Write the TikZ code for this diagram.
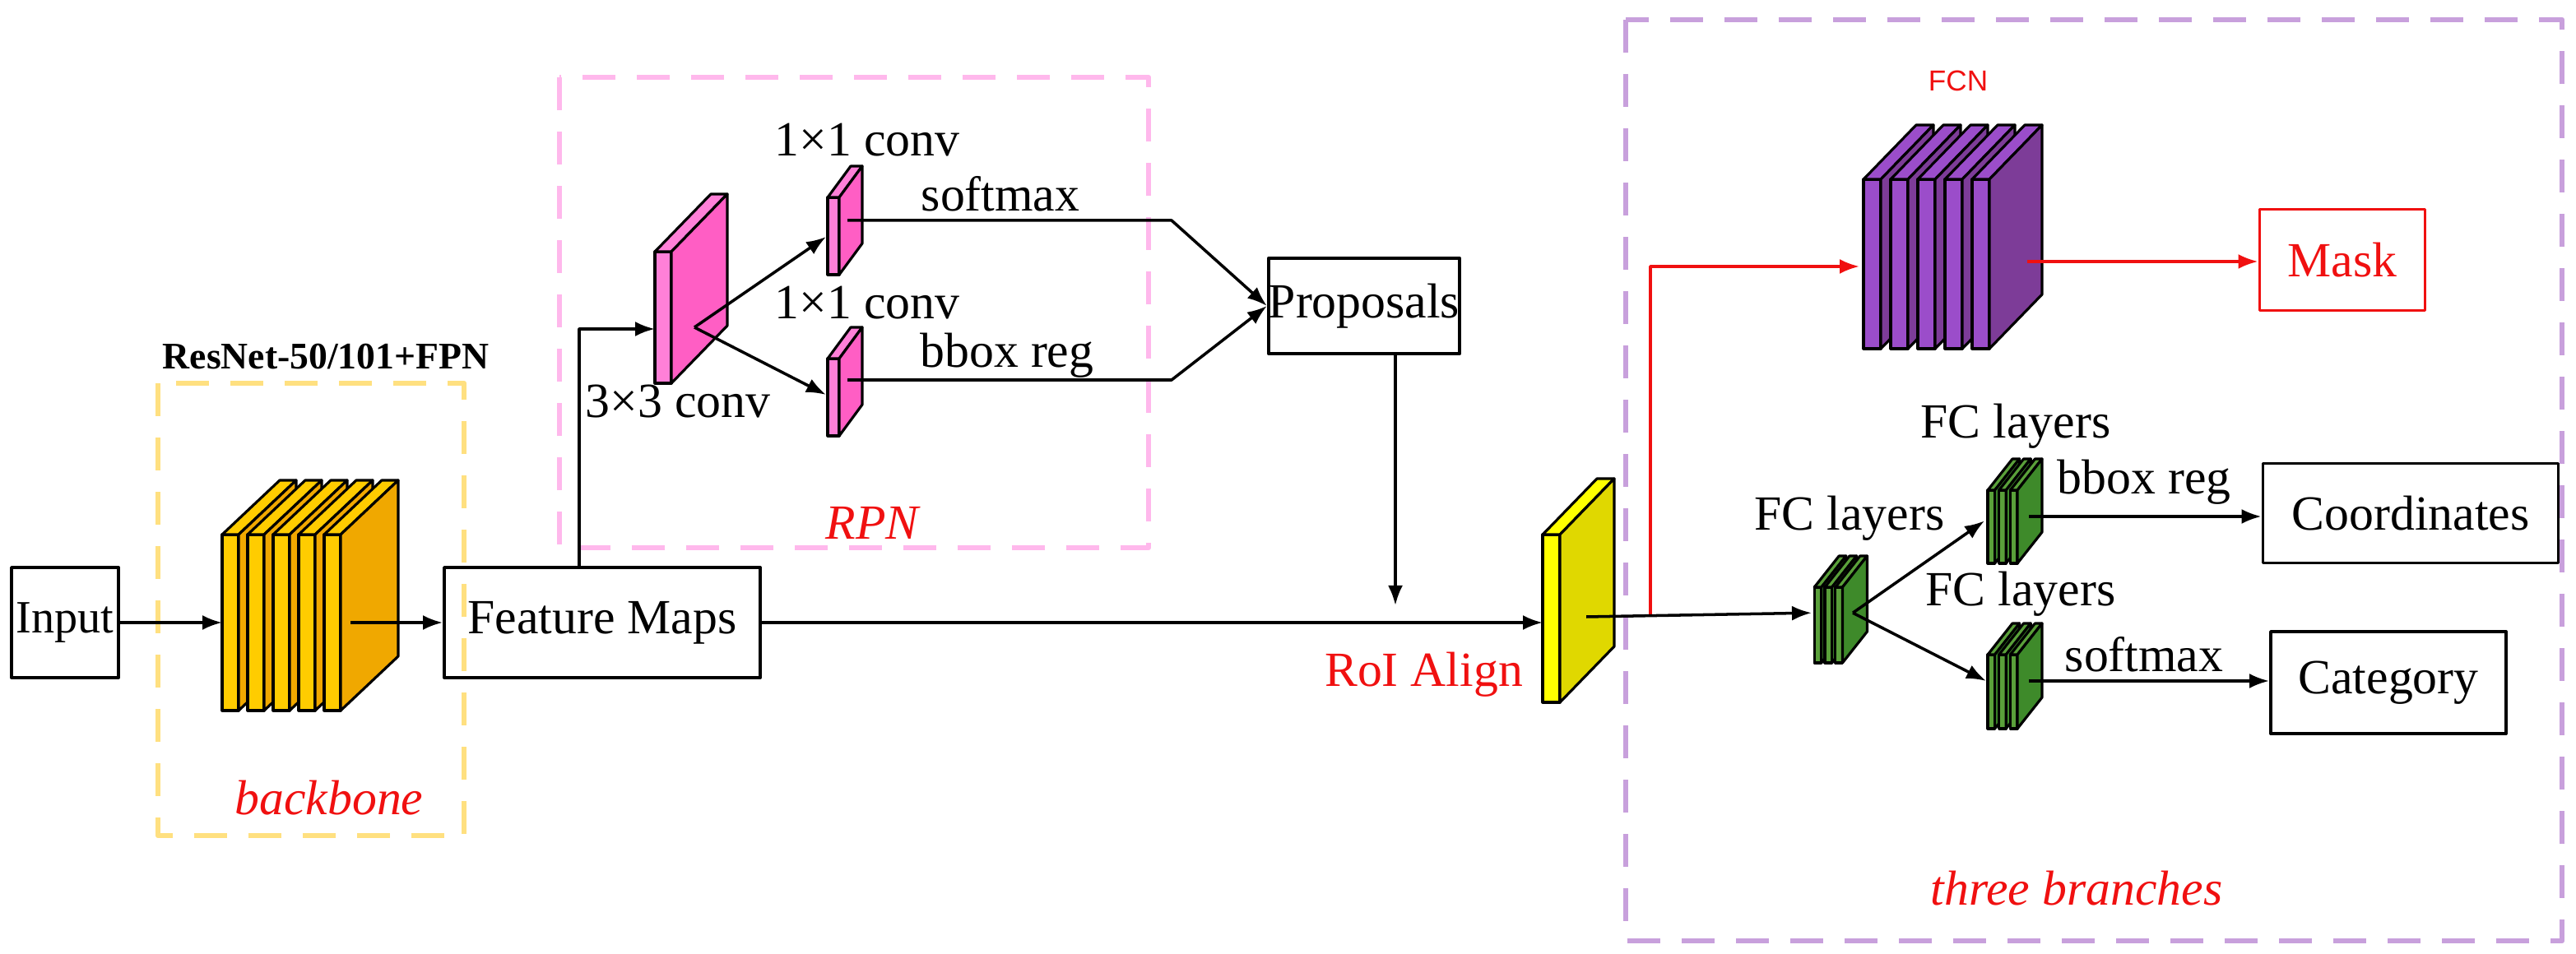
\documentclass[tikz,border=0pt]{standalone}
\usepackage{fontspec}
\setmainfont{Liberation Serif}
\newfontfamily\sansf{Liberation Sans}
\usetikzlibrary{arrows.meta}
\definecolor{bbfront}{HTML}{FFCC00}\definecolor{bbside}{HTML}{F0A800}
\definecolor{pkfront}{HTML}{FF80D8}\definecolor{pkside}{HTML}{FF5EC4}
\definecolor{pufront}{HTML}{9B4DCA}\definecolor{puside}{HTML}{7D3C98}
\definecolor{grfront}{HTML}{5AA03A}\definecolor{grside}{HTML}{3E8A2A}
\definecolor{yefront}{HTML}{FFFF00}\definecolor{yeside}{HTML}{E0D800}
\definecolor{dashyel}{HTML}{FFE080}\definecolor{dashpink}{HTML}{FFB8EC}\definecolor{dashpur}{HTML}{C8A0DC}
\definecolor{redt}{HTML}{F01010}
% x y w h dx dy front side
\newcommand{\myslab}[8]{%
 \filldraw[fill=#7] (#1,#2) rectangle ++(#3,#4);
 \filldraw[fill=#7] (#1,#2) -- ++(#5,-#6) -- ++(#3,0) -- ++(-#5,#6) -- cycle;
 \filldraw[fill=#8] (#1,#2) ++(#3,0) -- ++(#5,-#6) -- ++(0,#4) -- ++(-#5,#6) -- cycle;}
\begin{document}
\begin{tikzpicture}[x=0.2mm,y=-0.2mm,line width=0.9pt,line join=round,
 box/.style={draw,line width=1.1pt,inner sep=0pt,font=\fontsize{17}{19}\selectfont},
 lab/.style={font=\fontsize{17}{19}\selectfont,inner sep=1pt},
 red lab/.style={inner sep=1pt,text=redt,font=\fontsize{17}{19}\selectfont\itshape},
 arr/.style={-{Latex[length=2.4mm,width=1.8mm]},line width=1pt},
 dbox/.style={dash pattern=on 4mm off 2.6mm,line width=1.8pt}]
\useasboundingbox (0,0) rectangle (1565.5,580);
% dashed groups
\draw[dbox,dashyel] (96,233) rectangle (282,508);
\draw[dbox,dashpink] (340,47) rectangle (698,333);
\draw[dbox,dashpur] (988,12) rectangle (1557,572);
\node[font=\fontsize{13}{15}\selectfont\bfseries] (resn) at (198,217) {ResNet-50/101+FPN};
\node[red lab] (bbl) at (200,485) {backbone};
\node[red lab] (rpnl) at (530,318) {RPN};
\node[red lab] (tbl) at (1262,540) {three branches};
% boxes
\node[box,font=\fontsize{16}{18}\selectfont,minimum width=13mm,minimum height=13.4mm] (input) at (39.5,378.5) {Input};
\node[box,minimum width=38.4mm,minimum height=13.4mm] (fm) at (366,378.5) {Feature Maps};
\node[box,minimum width=20.4mm,minimum height=11.6mm] (prop) at (829,186) {Proposals};
\node[box,draw=redt,text=redt,minimum width=20.1mm,minimum height=12.3mm] (mask) at (1423.5,158) {Mask};
\node[box,minimum width=35.9mm,minimum height=12.1mm] (coord) at (1465,312) {Coordinates};
\node[box,minimum width=28.6mm,minimum height=12.4mm] (cat) at (1451.5,415) {Category};
% backbone slabs
\foreach \i in {0,...,4}{\myslab{135+15.5*\i}{325}{10}{107}{35}{33}{bbfront}{bbside}}
\coordinate (bbin) at (135,378.5);
\coordinate (bbout) at (213,378.5);
\draw[arr] (input) -- (bbin);
\draw[arr] (bbout) -- (fm.west|-bbout);
% RPN
\myslab{398}{153}{10}{80}{34}{35}{pkfront}{pkside}
\myslab{503}{120}{7}{47}{14}{19}{pkfront}{pkside}
\myslab{503}{218}{7}{47}{14}{19}{pkfront}{pkside}
\coordinate (fmup) at (352,345);
\coordinate (bigin) at (398,200);
\coordinate (bigc) at (422,199);
\coordinate (s1in) at (502,144);
\coordinate (s2in) at (502,240);
\coordinate (s1out) at (515,134);
\coordinate (s2out) at (515,231);
\coordinate (k1) at (712,134);
\coordinate (k2) at (712,231);
\draw[arr] (fmup) -- (352,200) -- (bigin);
\draw[arr] (bigc) -- (s1in);
\draw[arr] (bigc) -- (s2in);
\draw[arr] (s1out) -- (k1) -- (prop.west);
\draw[arr] (s2out) -- (k2) -- (prop.west);
\node[lab] (c1) at (527,85) {1×1 conv};
\node[lab] (c2) at (527,184) {1×1 conv};
\node[lab] (sm1) at (608,118) {softmax};
\node[lab] (bb1) at (612,216) {bbox reg};
\node[lab] (c3) at (412,244) {3×3 conv};
% RoI Align
\myslab{937.5}{325}{10.5}{102}{33}{34}{yefront}{yeside}
\node[inner sep=1pt,text=redt,font=\fontsize{17}{19}\selectfont,anchor=east] (roil) at (928,410) {RoI Align};
\coordinate (roiin) at (937.5,378.5);
\coordinate (roiout) at (964,375);
\draw[arr] (prop.south-|848,0) -- (848,368);
\draw[arr] (fm.east) -- (roiin);
% FCN
\foreach \x in {1132.5,1149,1165.5,1182,1198.5}{\myslab{\x}{109}{10.5}{103}{32}{33}{pufront}{puside}}
\node[font=\fontsize{10}{12}\sansf,text=redt] (fcn) at (1190,49) {FCN};
\coordinate (fcnin) at (1130,162);
\coordinate (fcnout) at (1232,159);
\coordinate (split) at (1003,375);
\draw[arr,draw=redt,color=redt] (split) -- (1003,162) -- (fcnin);
\draw[arr,draw=redt,color=redt] (fcnout) -- (mask.west|-fcnout);
% FC
\foreach \x in {1102.6,1109,1115.4}{\myslab{\x}{357}{4.3}{46}{15}{19}{grfront}{grside}}
\foreach \x in {1208,1214.8,1221.7}{\myslab{\x}{298}{4.3}{44.5}{15}{19}{grfront}{grside}}
\foreach \x in {1208,1214.8,1221.7}{\myslab{\x}{398}{4.3}{45}{15}{19}{grfront}{grside}}
\coordinate (g1in) at (1101,372.6);
\coordinate (g1c) at (1126,372.6);
\coordinate (g2in) at (1206,316.7);
\coordinate (g3in) at (1207,414);
\coordinate (g2out) at (1233,314);
\coordinate (g3out) at (1233,414);
\draw[arr] (roiout) -- (g1in);
\draw[arr] (g1c) -- (g2in);
\draw[arr] (g1c) -- (g3in);
\draw[arr] (g2out) -- (coord.west|-g2out);
\draw[arr] (g3out) -- (cat.west|-g3out);
\node[lab] (fc1) at (1124,315) {FC layers};
\node[lab] (fc2) at (1225,259) {FC layers};
\node[lab] (fc3) at (1228,361) {FC layers};
\node[lab] (bb2) at (1303,293) {bbox reg};
\node[lab] (sm2) at (1303,398) {softmax};
\end{tikzpicture}
\end{document}
